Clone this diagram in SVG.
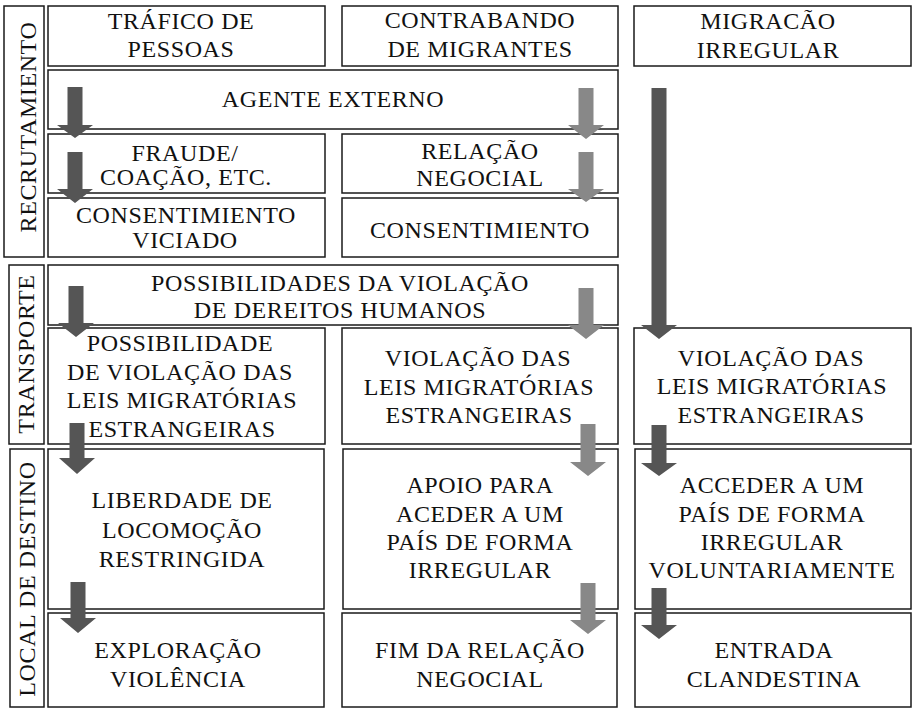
<svg xmlns="http://www.w3.org/2000/svg" width="915" height="713" viewBox="0 0 915 713">
<style>
.box{fill:#fff;stroke:#1a1a1a;stroke-width:1.5}
.t{font-size:24px;letter-spacing:0.6px;fill:#111;text-anchor:middle}
.dk{fill:#555}
.lt{fill:#888}
</style>
<rect width="915" height="713" fill="#fff"/>
<g font-family="'Liberation Serif', 'Times New Roman', serif">
<g id="stage-recrutamiento"><rect class="box" x="4" y="6" width="40" height="251"/><text class="t" transform="translate(36,127) rotate(-90)">RECRUTAMIENTO</text></g>
<g id="stage-transporte"><rect class="box" x="9" y="265" width="35" height="179"/><text class="t" transform="translate(34,354) rotate(-90)">TRANSPORTE</text></g>
<g id="stage-destino"><rect class="box" x="10" y="449" width="34" height="258"/><text class="t" transform="translate(35,579) rotate(-90)">LOCAL DE DESTINO</text></g>

<g id="trafico"><rect class="box" x="48" y="6" width="277" height="60"/><text class="t" x="181" y="29">TRÁFICO DE</text><text class="t" x="181" y="57">PESSOAS</text></g>
<g id="contrabando"><rect class="box" x="342" y="6" width="276" height="60"/><text class="t" x="480" y="28">CONTRABANDO</text><text class="t" x="480" y="57">DE MIGRANTES</text></g>
<g id="migracao"><rect class="box" x="634" y="6" width="277" height="60"/><text class="t" x="768" y="29">MIGRACÃO</text><text class="t" x="768" y="58">IRREGULAR</text></g>

<g id="agente"><rect class="box" x="48" y="70" width="570" height="59"/><text class="t" x="333" y="107">AGENTE EXTERNO</text></g>
<g id="fraude"><rect class="box" x="48" y="134" width="277" height="59"/><text class="t" x="185" y="161">FRAUDE/</text><text class="t" x="186" y="185">COAÇÃO, ETC.</text></g>
<g id="relacao"><rect class="box" x="342" y="134" width="276" height="59"/><text class="t" x="480" y="159">RELAÇÃO</text><text class="t" x="480" y="186">NEGOCIAL</text></g>
<g id="consent-viciado"><rect class="box" x="48" y="198" width="277" height="59"/><text class="t" x="186" y="223">CONSENTIMIENTO</text><text class="t" x="185" y="248">VICIADO</text></g>
<g id="consent"><rect class="box" x="342" y="198" width="276" height="59"/><text class="t" x="480" y="238">CONSENTIMIENTO</text></g>

<g id="possibilidades"><rect class="box" x="48" y="265" width="570" height="60"/><text class="t" x="340" y="291">POSSIBILIDADES DA VIOLAÇÃO</text><text class="t" x="340" y="318">DE DEREITOS HUMANOS</text></g>
<g id="possibilidade-violacao"><rect class="box" x="48" y="328" width="277" height="116"/><text class="t" x="180" y="351">POSSIBILIDADE</text><text class="t" x="180" y="380">DE VIOLAÇÃO DAS</text><text class="t" x="182" y="408">LEIS MIGRATÓRIAS</text><text class="t" x="182" y="437">ESTRANGEIRAS</text></g>
<g id="violacao-mid"><rect class="box" x="342" y="328" width="276" height="116"/><text class="t" x="478" y="366">VIOLAÇÃO DAS</text><text class="t" x="479" y="395">LEIS MIGRATÓRIAS</text><text class="t" x="479" y="423">ESTRANGEIRAS</text></g>
<g id="violacao-right"><rect class="box" x="634" y="328" width="277" height="116"/><text class="t" x="771" y="366">VIOLAÇÃO DAS</text><text class="t" x="772" y="394">LEIS MIGRATÓRIAS</text><text class="t" x="771" y="423">ESTRANGEIRAS</text></g>

<g id="liberdade"><rect class="box" x="48" y="449" width="276" height="160"/><text class="t" x="182" y="508">LIBERDADE DE</text><text class="t" x="182" y="538">LOCOMOÇÃO</text><text class="t" x="182" y="567">RESTRINGIDA</text></g>
<g id="apoio"><rect class="box" x="343" y="449" width="275" height="160"/><text class="t" x="480" y="493">APOIO PARA</text><text class="t" x="480" y="522">ACEDER A UM</text><text class="t" x="480" y="550">PAÍS DE FORMA</text><text class="t" x="480" y="578">IRREGULAR</text></g>
<g id="acceder"><rect class="box" x="635" y="449" width="276" height="160"/><text class="t" x="772" y="493">ACCEDER A UM</text><text class="t" x="772" y="522">PAÍS DE FORMA</text><text class="t" x="772" y="550">IRREGULAR</text><text class="t" x="772" y="578">VOLUNTARIAMENTE</text></g>

<g id="exploracao"><rect class="box" x="48" y="613" width="276" height="94"/><text class="t" x="178" y="658">EXPLORAÇÃO</text><text class="t" x="178" y="687">VIOLÊNCIA</text></g>
<g id="fim"><rect class="box" x="342" y="613" width="275" height="94"/><text class="t" x="480" y="658">FIM DA RELAÇÃO</text><text class="t" x="480" y="687">NEGOCIAL</text></g>
<g id="entrada"><rect class="box" x="635" y="613" width="276" height="94"/><text class="t" x="774" y="658">ENTRADA</text><text class="t" x="774" y="687">CLANDESTINA</text></g>
</g>

<g id="connectors">
<path class="dk" d="M67.5 87H82.5V125H93L75 138L57 125H67.5Z"/>
<path class="dk" d="M67.5 152H82.5V189H93L75 203L57 189H67.5Z"/>
<path class="dk" d="M68.5 286H83.5V323H94L76 337L58 323H68.5Z"/>
<path class="dk" d="M69.5 423H84.5V458H95L77 474L59 458H69.5Z"/>
<path class="dk" d="M70.5 582H85.5V618H96L78 633L60 618H70.5Z"/>
<path class="lt" d="M578.5 88H593.5V125H604L586 139L568 125H578.5Z"/>
<path class="lt" d="M578.5 152H593.5V189H604L586 202L568 189H578.5Z"/>
<path class="lt" d="M578.5 288H593.5V325H604L586 339L568 325H578.5Z"/>
<path class="lt" d="M580.5 424H595.5V462H606L588 476L570 462H580.5Z"/>
<path class="lt" d="M580.5 583H595.5V620H606L588 634L570 620H580.5Z"/>
<path class="dk" d="M651.5 88H666.5V325H677L659 339L641 325H651.5Z"/>
<path class="dk" d="M651.5 425H666.5V463H677L659 476L641 463H651.5Z"/>
<path class="dk" d="M651.5 588H666.5V625H677L659 639L641 625H651.5Z"/>
</g>
</svg>
